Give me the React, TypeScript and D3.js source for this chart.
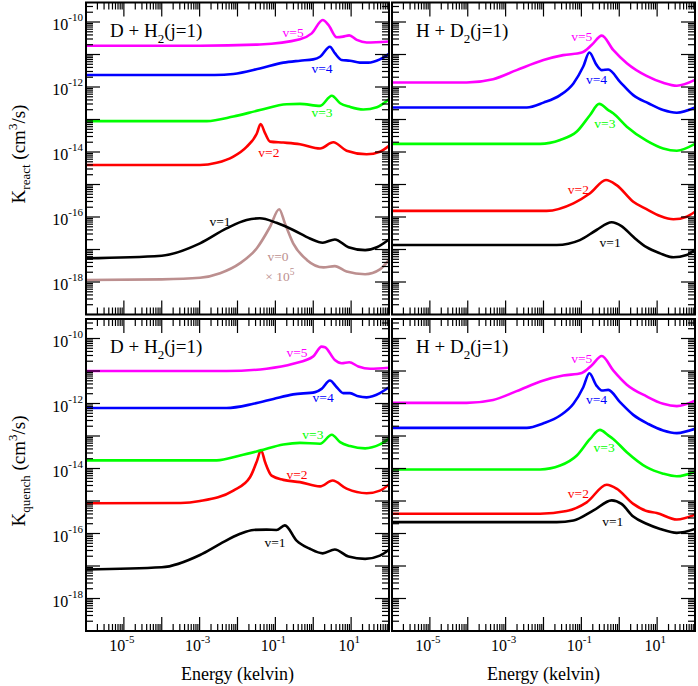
import React from "react";
import * as d3 from "d3";

// Each point: [log10(Energy / kelvin), log10(K / (cm^3/s))]
type Pt = [number, number];

// ---------- Top-left: D + H2(j=1), K_react ----------
const reactDH2_v5: Pt[] = [[-6,-10.73],[-2.99,-10.73],[-1.41,-10.69],[-0.35,-10.53],[-0.04,-10.35],[0.25,-9.94],[0.40,-10.09],[0.62,-10.47],[0.79,-10.45],[0.95,-10.41],[1.15,-10.55],[1.41,-10.63],[2,-10.6]];
const reactDH2_v4: Pt[] = [[-6,-11.63],[-2.6,-11.63],[-2.11,-11.6],[-1.41,-11.43],[-0.79,-11.25],[-0.35,-11.19],[0.0,-11.15],[0.18,-11.07],[0.44,-10.76],[0.57,-10.96],[0.75,-11.17],[0.97,-11.19],[1.23,-11.25],[1.45,-11.25],[1.76,-11.15],[2,-10.98]];
const reactDH2_v3: Pt[] = [[-6,-13.05],[-2.81,-13.05],[-2.11,-12.91],[-1.41,-12.71],[-0.70,-12.53],[-0.35,-12.52],[0.18,-12.58],[0.49,-12.27],[0.71,-12.50],[0.97,-12.61],[1.32,-12.69],[1.68,-12.62],[2,-12.38]];
const reactDH2_v2: Pt[] = [[-6,-14.4],[-2.99,-14.4],[-2.55,-14.33],[-2.11,-14.14],[-1.76,-13.84],[-1.49,-13.43],[-1.39,-13.14],[-1.27,-13.43],[-1.14,-13.68],[-0.79,-13.71],[-0.35,-13.76],[0.18,-13.89],[0.53,-13.70],[0.88,-13.96],[1.41,-14.07],[1.76,-13.99],[2,-13.81]];
const reactDH2_v1: Pt[] = [[-6,-17.27],[-4,-17.19],[-2.99,-16.81],[-2.29,-16.35],[-1.76,-16.09],[-1.41,-16.04],[-0.97,-16.18],[-0.53,-16.40],[-0.09,-16.66],[0.25,-16.79],[0.57,-16.69],[0.93,-16.93],[1.37,-17.02],[1.68,-16.93],[2,-16.69]];
const reactDH2_v0x1e5: Pt[] = [[-6,-17.94],[-4,-17.92],[-2.99,-17.87],[-2.46,-17.73],[-1.93,-17.42],[-1.49,-16.96],[-1.14,-16.30],[-0.90,-15.76],[-0.75,-16.19],[-0.53,-16.81],[-0.17,-17.32],[0.27,-17.55],[0.57,-17.51],[0.88,-17.68],[1.37,-17.76],[1.76,-17.61],[2,-17.32]];

// ---------- Top-right: H + D2(j=1), K_react ----------
const reactHD2_v5: Pt[] = [[-6,-11.86],[-4.03,-11.86],[-3.33,-11.76],[-2.71,-11.48],[-2.0,-11.17],[-1.48,-11.02],[-0.99,-10.94],[-0.73,-10.71],[-0.46,-10.42],[-0.16,-10.86],[0.20,-11.27],[0.72,-11.66],[1.16,-11.87],[1.52,-11.96],[2,-11.78]];
const reactHD2_v4: Pt[] = [[-6,-12.63],[-2.44,-12.63],[-2.0,-12.48],[-1.56,-12.25],[-1.21,-11.89],[-0.95,-11.37],[-0.79,-10.94],[-0.60,-11.32],[-0.46,-11.48],[-0.29,-11.46],[0.02,-11.84],[0.37,-12.25],[0.77,-12.50],[1.16,-12.71],[1.52,-12.79],[2,-12.63]];
const reactHD2_v3: Pt[] = [[-6,-13.75],[-2.09,-13.75],[-1.56,-13.63],[-1.12,-13.37],[-0.77,-12.86],[-0.53,-12.52],[-0.29,-12.71],[-0.16,-12.81],[0.20,-13.22],[0.72,-13.65],[1.16,-13.89],[1.52,-13.96],[2,-13.75]];
const reactHD2_v2: Pt[] = [[-6,-15.81],[-1.92,-15.81],[-1.21,-15.58],[-0.77,-15.27],[-0.35,-14.86],[-0.07,-15.02],[0.37,-15.53],[0.72,-15.76],[1.08,-15.97],[1.43,-16.07],[1.78,-15.99],[2,-15.84]];
const reactHD2_v1: Pt[] = [[-6,-16.86],[-1.65,-16.86],[-1.04,-16.71],[-0.60,-16.40],[-0.20,-16.16],[0.06,-16.28],[0.37,-16.61],[0.72,-16.93],[1.08,-17.12],[1.43,-17.24],[1.78,-17.17],[2,-17.0]];

// ---------- Bottom-left: D + H2(j=1), K_quench ----------
const quenchDH2_v5: Pt[] = [[-6,-11.0],[-2.29,-11.0],[-1.23,-10.93],[-0.53,-10.78],[0.0,-10.55],[0.22,-10.25],[0.31,-10.27],[0.57,-10.66],[0.75,-10.76],[0.95,-10.73],[1.19,-10.86],[1.50,-10.93],[2,-10.90]];
const quenchDH2_v4: Pt[] = [[-6,-12.14],[-2.29,-12.14],[-1.58,-12.01],[-1.05,-11.86],[-0.53,-11.72],[0.05,-11.65],[0.22,-11.55],[0.44,-11.29],[0.62,-11.50],[0.79,-11.68],[0.97,-11.68],[1.19,-11.78],[1.41,-11.81],[1.76,-11.68],[2,-11.50]];
const quenchDH2_v3: Pt[] = [[-6,-13.75],[-2.55,-13.75],[-1.93,-13.60],[-1.41,-13.45],[-0.79,-13.26],[-0.35,-13.21],[0.18,-13.24],[0.49,-12.96],[0.71,-13.19],[0.97,-13.31],[1.37,-13.38],[1.76,-13.26],[2,-13.09]];
const quenchDH2_v2: Pt[] = [[-6,-15.07],[-3.5,-15.06],[-2.99,-15.0],[-2.11,-14.68],[-1.67,-14.27],[-1.48,-13.75],[-1.38,-13.43],[-1.27,-13.81],[-1.10,-14.22],[-0.79,-14.35],[-0.35,-14.42],[0.18,-14.55],[0.51,-14.37],[0.88,-14.62],[1.41,-14.76],[1.76,-14.68],[2,-14.49]];
const quenchDH2_v1: Pt[] = [[-6,-17.11],[-4,-17.04],[-2.99,-16.66],[-2.46,-16.32],[-1.93,-16.01],[-1.58,-15.89],[-1.23,-15.88],[-0.97,-15.89],[-0.75,-15.75],[-0.44,-16.22],[-0.09,-16.47],[0.25,-16.61],[0.57,-16.49],[0.93,-16.71],[1.37,-16.78],[1.76,-16.68],[2,-16.50]];

// ---------- Bottom-right: H + D2(j=1), K_quench ----------
const quenchHD2_v5: Pt[] = [[-6,-11.98],[-4.03,-11.98],[-3.33,-11.89],[-2.71,-11.62],[-2.0,-11.29],[-1.48,-11.14],[-0.99,-11.06],[-0.73,-10.83],[-0.46,-10.54],[-0.16,-10.98],[0.20,-11.42],[0.72,-11.78],[1.16,-12.01],[1.52,-12.08],[2,-11.91]];
const quenchHD2_v4: Pt[] = [[-6,-12.75],[-2.44,-12.75],[-2.0,-12.61],[-1.56,-12.37],[-1.21,-12.01],[-0.95,-11.50],[-0.79,-11.07],[-0.60,-11.45],[-0.46,-11.60],[-0.29,-11.58],[0.02,-11.96],[0.37,-12.35],[0.77,-12.63],[1.16,-12.83],[1.52,-12.91],[2,-12.78]];
const quenchHD2_v3: Pt[] = [[-6,-14.03],[-2.09,-14.03],[-1.56,-13.91],[-1.12,-13.60],[-0.77,-13.09],[-0.51,-12.81],[-0.29,-12.98],[-0.16,-13.09],[0.20,-13.50],[0.72,-13.96],[1.16,-14.16],[1.52,-14.24],[2,-14.10]];
const quenchHD2_v2: Pt[] = [[-6,-15.39],[-2.09,-15.39],[-1.39,-15.31],[-0.86,-15.04],[-0.33,-14.50],[-0.07,-14.62],[0.37,-15.09],[0.72,-15.31],[0.99,-15.37],[1.52,-15.57],[2,-15.42]];
const quenchHD2_v1: Pt[] = [[-6,-15.65],[-1.65,-15.65],[-1.21,-15.60],[-0.68,-15.29],[-0.20,-14.98],[0.06,-15.09],[0.37,-15.48],[0.72,-15.70],[1.08,-15.86],[1.52,-15.98],[2,-15.86]];

// Curve-label anchors [log10 E, log10 K]
const labelsReactDH2: [string, Pt][] = [["v=5",[-0.53,-10.31]],["v=4",[0.23,-11.42]],["v=3",[0.23,-12.77]],["v=2",[-1.17,-14.0]],["v=1",[-2.46,-16.15]],["v=0",[-0.93,-17.2]]];
const labelsReactHD2: [string, Pt][] = [["v=5",[-0.99,-10.45]],["v=4",[-0.60,-11.78]],["v=3",[-0.38,-13.12]],["v=2",[-1.08,-15.15]],["v=1",[-0.24,-16.79]]];
const labelsQuenchDH2: [string, Pt][] = [["v=5",[-0.43,-10.42]],["v=4",[0.26,-11.8]],["v=3",[-0.01,-12.94]],["v=2",[-0.43,-14.17]],["v=1",[-1.01,-16.29]]];
const labelsQuenchHD2: [string, Pt][] = [["v=5",[-0.99,-10.6]],["v=4",[-0.60,-11.89]],["v=3",[-0.40,-13.36]],["v=2",[-1.08,-14.76]],["v=1",[-0.17,-15.64]]];
const scaleNoteAnchor: Pt = [-0.88, -17.82];

const xTickLabelExps = [-5, -3, -1, 1];
const yTickLabelExps = [-10, -12, -14, -16, -18];
const xDomainExp: [number, number] = [-6, 2];
const yDomainExp: [number, number] = [-19, -9.4];

const COLORS: Record<string, string> = {
  "v=5": "#ff00ff",
  "v=4": "#0000ff",
  "v=3": "#00ff00",
  "v=2": "#ff0000",
  "v=1": "#000000",
  "v=0": "#bc8f8f",
};

const FONT = "Liberation Serif, DejaVu Serif, serif";

type PanelProps = {
  id: string;
  x0: number; x1: number; y0: number; y1: number;
  curves: { key: string; data: Pt[] }[];
  labels: [string, Pt][];
  reactant: string; sub: string; rest: string;
  showXLabels: boolean; showYLabels: boolean;
  showScaleNote?: boolean;
};

function Panel(p: PanelProps) {
  const xs = d3.scaleLog().domain([10 ** xDomainExp[0], 10 ** xDomainExp[1]]).range([p.x0, p.x1]);
  const ys = d3.scaleLog().domain([10 ** yDomainExp[0], 10 ** yDomainExp[1]]).range([p.y1, p.y0]);
  const line = d3.line<Pt>().x(d => xs(10 ** d[0])).y(d => ys(10 ** d[1])).curve(d3.curveMonotoneX);

  const xMaj: number[] = [];
  const xMin: number[] = [];
  for (let e = xDomainExp[0]; e <= xDomainExp[1]; e++) {
    xMaj.push(10 ** e);
    if (e < xDomainExp[1]) for (let m = 2; m <= 9; m++) xMin.push(m * 10 ** e);
  }
  const yMaj: number[] = [];
  const yMin: number[] = [];
  const yMax = 10 ** yDomainExp[1];
  for (let e = yDomainExp[0]; e <= Math.floor(yDomainExp[1]); e++) {
    yMaj.push(10 ** e);
    for (let m = 2; m <= 9; m++) { const v = m * 10 ** e; if (v <= yMax) yMin.push(v); }
  }
  const MAJ = 14, MIN = 7;
  const tickEls: React.ReactElement[] = [];
  const addX = (v: number, len: number, k: string) => {
    const x = xs(v);
    tickEls.push(<line key={"xb" + k} x1={x} x2={x} y1={p.y1} y2={p.y1 - len} />);
    tickEls.push(<line key={"xt" + k} x1={x} x2={x} y1={p.y0} y2={p.y0 + len} />);
  };
  const addY = (v: number, len: number, k: string) => {
    const y = ys(v);
    tickEls.push(<line key={"yl" + k} x1={p.x0} x2={p.x0 + len} y1={y} y2={y} />);
    tickEls.push(<line key={"yr" + k} x1={p.x1} x2={p.x1 - len} y1={y} y2={y} />);
  };
  xMaj.forEach((v, i) => addX(v, MAJ, "M" + i));
  xMin.forEach((v, i) => addX(v, MIN, "m" + i));
  yMaj.forEach((v, i) => addY(v, MAJ, "M" + i));
  yMin.forEach((v, i) => addY(v, MIN, "m" + i));

  return (
    <g>
      <defs>
        <clipPath id={p.id}>
          <rect x={p.x0} y={p.y0} width={p.x1 - p.x0} height={p.y1 - p.y0} />
        </clipPath>
      </defs>
      <g clipPath={`url(#${p.id})`}>
        {p.curves.map(c => (
          <path key={c.key} d={line(c.data) || ""} fill="none" stroke={COLORS[c.key]} strokeWidth={2.6} strokeLinejoin="round" />
        ))}
      </g>
      <g stroke="#000" strokeWidth={1.2}>{tickEls}</g>
      <rect x={p.x0} y={p.y0} width={p.x1 - p.x0} height={p.y1 - p.y0} fill="none" stroke="#000" strokeWidth={2} />
      {p.labels.map(([t, pt]) => (
        <text key={t} x={xs(10 ** pt[0])} y={ys(10 ** pt[1]) + 4.5} textAnchor="middle" fontSize={13.5} fontFamily={FONT} fill={COLORS[t]}>{t}</text>
      ))}
      {p.showScaleNote && (
        <text x={xs(10 ** scaleNoteAnchor[0])} y={ys(10 ** scaleNoteAnchor[1]) + 4.5} textAnchor="middle" fontSize={13.5} fontFamily={FONT} fill={COLORS["v=0"]}>
          × 10<tspan dy={-6} fontSize={9.5}>5</tspan>
        </text>
      )}
      <text x={p.x0 + 24} y={p.y0 + 34} fontSize={19} fontFamily={FONT} fill="#000">
        {p.reactant}<tspan dy={6} fontSize={13}>{p.sub}</tspan><tspan dy={-6}>{p.rest}</tspan>
      </text>
      {p.showYLabels && yTickLabelExps.map(e => (
        <text key={"yl" + e} x={p.x0 - 3} y={ys(10 ** e) + 8} textAnchor="end" fontSize={16} fontFamily={FONT} fill="#000">
          10<tspan dy={-9} fontSize={11}>{String(e)}</tspan>
        </text>
      ))}
      {p.showXLabels && xTickLabelExps.map(e => (
        <text key={"xl" + e} x={xs(10 ** e) - 2} y={p.y1 + 20} textAnchor="middle" fontSize={16} fontFamily={FONT} fill="#000">
          10<tspan dy={-8} fontSize={11}>{String(e)}</tspan>
        </text>
      ))}
      {p.showXLabels && (
        <text x={(p.x0 + p.x1) / 2} y={p.y1 + 49} textAnchor="middle" fontSize={18} fontFamily={FONT} fill="#000">Energy (kelvin)</text>
      )}
    </g>
  );
}

function YTitle({ cy, sub }: { cy: number; sub: string }) {
  return (
    <text transform={`translate(25, ${cy}) rotate(-90)`} textAnchor="middle" fontSize={19} fontFamily={FONT} fill="#000">
      K<tspan dy={5} fontSize={13}>{sub}</tspan><tspan dy={-5}> (cm</tspan><tspan dy={-8} fontSize={13}>3</tspan><tspan dy={8}>/s)</tspan>
    </text>
  );
}

export default function App() {
  const L = { x0: 86, x1: 389 };
  const R = { x0: 392, x1: 695 };
  const T = { y0: 2.5, y1: 314.5 };
  const B = { y0: 319, y1: 631 };
  return (
    <svg width={698} height={686} style={{ position: "absolute", left: 0, top: 0, background: "#fff" }}>
      <rect width={698} height={686} fill="#fff" />
      <Panel id="cTL" {...L} {...T} reactant="D + H" sub="2" rest="(j=1)"
        curves={[
          { key: "v=0", data: reactDH2_v0x1e5 },
          { key: "v=1", data: reactDH2_v1 },
          { key: "v=2", data: reactDH2_v2 },
          { key: "v=3", data: reactDH2_v3 },
          { key: "v=4", data: reactDH2_v4 },
          { key: "v=5", data: reactDH2_v5 },
        ]}
        labels={labelsReactDH2} showXLabels={false} showYLabels={true} showScaleNote={true} />
      <Panel id="cTR" {...R} {...T} reactant="H + D" sub="2" rest="(j=1)"
        curves={[
          { key: "v=1", data: reactHD2_v1 },
          { key: "v=2", data: reactHD2_v2 },
          { key: "v=3", data: reactHD2_v3 },
          { key: "v=4", data: reactHD2_v4 },
          { key: "v=5", data: reactHD2_v5 },
        ]}
        labels={labelsReactHD2} showXLabels={false} showYLabels={false} />
      <Panel id="cBL" {...L} {...B} reactant="D + H" sub="2" rest="(j=1)"
        curves={[
          { key: "v=1", data: quenchDH2_v1 },
          { key: "v=2", data: quenchDH2_v2 },
          { key: "v=3", data: quenchDH2_v3 },
          { key: "v=4", data: quenchDH2_v4 },
          { key: "v=5", data: quenchDH2_v5 },
        ]}
        labels={labelsQuenchDH2} showXLabels={true} showYLabels={true} />
      <Panel id="cBR" {...R} {...B} reactant="H + D" sub="2" rest="(j=1)"
        curves={[
          { key: "v=1", data: quenchHD2_v1 },
          { key: "v=2", data: quenchHD2_v2 },
          { key: "v=3", data: quenchHD2_v3 },
          { key: "v=4", data: quenchHD2_v4 },
          { key: "v=5", data: quenchHD2_v5 },
        ]}
        labels={labelsQuenchHD2} showXLabels={true} showYLabels={false} />
      <YTitle cy={154} sub="react" />
      <YTitle cy={471} sub="quench" />
    </svg>
  );
}
